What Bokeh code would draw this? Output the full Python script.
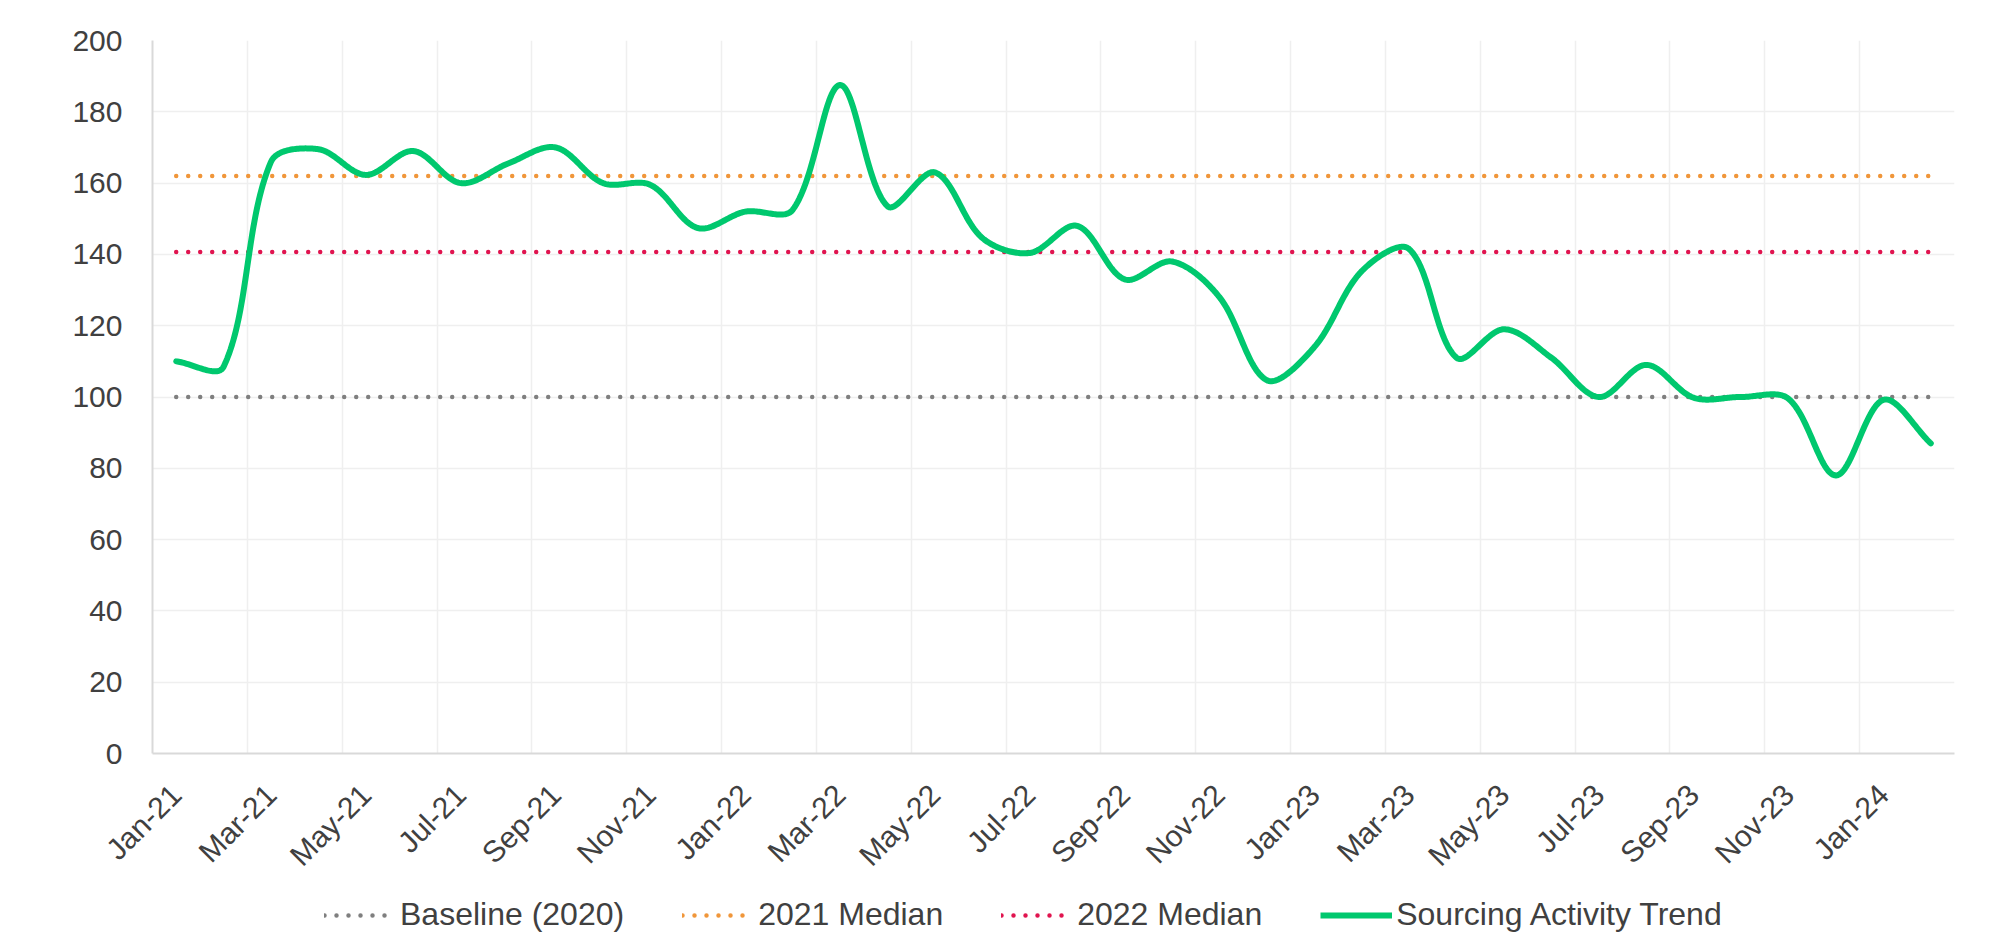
import numpy as np
from bokeh.plotting import figure
from bokeh.layouts import column
from bokeh.models import FixedTicker, Legend, LegendItem, Range1d
from bokeh.embed import file_html
from bokeh.resources import INLINE

months = ["Jan-21", "Feb-21", "Mar-21", "Apr-21", "May-21", "Jun-21", "Jul-21", "Aug-21",
          "Sep-21", "Oct-21", "Nov-21", "Dec-21", "Jan-22", "Feb-22", "Mar-22", "Apr-22",
          "May-22", "Jun-22", "Jul-22", "Aug-22", "Sep-22", "Oct-22", "Nov-22", "Dec-22",
          "Jan-23", "Feb-23", "Mar-23", "Apr-23", "May-23", "Jun-23", "Jul-23", "Aug-23",
          "Sep-23", "Oct-23", "Nov-23", "Dec-23", "Jan-24", "Feb-24"]

sourcing = [110, 108.5, 166, 169.5, 162.3, 169, 160, 165.5, 170, 160, 159.5, 147.4,
            152, 152.5, 187.5, 153.5, 163, 144.6, 140.4, 148, 133, 138, 128, 104.7,
            114, 135.3, 141.5, 111, 119, 111, 100, 109, 99.8, 100, 99.5, 78, 99.2, 87]

baseline_2020 = 100
median_2021 = 162
median_2022 = 140.7

y_ticks = list(range(0, 201, 20))

FONT = "Liberation Sans"
TEXT = "#404040"
C_BASE, C_M21, C_M22, C_SRC = "#7f7f7f", "#f0963a", "#e0144f", "#00c86e"

n = len(months)
x = np.arange(n, dtype=float)

# approximate on-screen size of one x unit and one y unit (px), used only for
# chord-length weighting of the smoothed curve (Excel-style smoothing)
XPX, YPX = 47.5, 3.566


def smooth(xs, ys, steps=40):
    P = np.column_stack([xs, ys]).astype(float)
    m = len(P)
    S = P * np.array([XPX, YPX])
    d = np.hypot(*(np.diff(S, axis=0).T))  # segment lengths in px
    parts = []
    for i in range(m - 1):
        p1, p2 = P[i], P[i + 1]
        p0 = P[i - 1] if i > 0 else P[i]
        p3 = P[i + 2] if i + 2 < m else P[i + 1]
        dprev = d[i - 1] if i > 0 else 0.0
        dnext = d[i + 1] if i + 2 < m else 0.0
        di = d[i]
        c1 = p1 + (p2 - p0) * di / (3.0 * (dprev + di))
        c2 = p2 - (p3 - p1) * di / (3.0 * (di + dnext))
        t = np.linspace(0, 1, steps, endpoint=(i == m - 2))[:, None]
        seg = (1 - t) ** 3 * p1 + 3 * (1 - t) ** 2 * t * c1 + 3 * (1 - t) * t ** 2 * c2 + t ** 3 * p2
        parts.append(seg)
    R = np.vstack(parts)
    return R[:, 0], R[:, 1]


p = figure(width=2000, height=892,
           x_range=Range1d(-0.5, n - 0.5), y_range=Range1d(0, 200),
           output_backend="svg", toolbar_location=None,
           min_border_left=152, min_border_right=46, min_border_top=40, min_border_bottom=139)
p.outline_line_color = None
p.background_fill_color = "white"
p.border_fill_color = "white"

dot = dict(line_width=4.5, line_dash="0 12", line_cap="round")
p.line(x, np.full(n, baseline_2020), line_color=C_BASE, **dot)
p.line(x, np.full(n, median_2021), line_color=C_M21, **dot)
p.line(x, np.full(n, median_2022), line_color=C_M22, **dot)
sx, sy = smooth(x, sourcing)
p.line(sx, sy, line_color=C_SRC, line_width=6, line_cap="round", line_join="round")

# axes: labels at category centres, grid lines at category boundaries
label_pos = list(range(0, n, 2))
p.xaxis.ticker = FixedTicker(ticks=label_pos)
p.xaxis.major_label_overrides = {k: months[k] for k in label_pos}
p.xaxis.major_label_orientation = np.pi / 4
p.xaxis.major_label_standoff = 36
p.yaxis.ticker = FixedTicker(ticks=y_ticks)
p.yaxis.major_label_standoff = 30

for ax in (p.xaxis, p.yaxis):
    ax.axis_line_color = "#d9d9d9"
    ax.axis_line_width = 2
    ax.major_tick_line_color = None
    ax.minor_tick_line_color = None
    ax.major_tick_out = 0
    ax.major_tick_in = 0
    ax.major_label_text_font = FONT
    ax.major_label_text_font_size = "30px"
    ax.major_label_text_color = TEXT

p.xgrid.ticker = FixedTicker(ticks=[-0.5 + 2 * k for k in range(n // 2 + 1)])
p.xgrid.grid_line_color = "#efefef"
p.xgrid.grid_line_width = 1.5
p.ygrid.grid_line_color = "#efefef"
p.ygrid.grid_line_width = 1.5

# legend strip below the chart (its series lie outside this strip's visible y range,
# so only the legend swatches show)
lf = figure(width=2000, height=41, x_range=Range1d(-0.5, n - 0.5), y_range=Range1d(-2, -1),
            output_backend="svg", toolbar_location=None, x_axis_type=None, y_axis_type=None,
            min_border=0)
lf.outline_line_color = None
lf.xgrid.visible = False
lf.ygrid.visible = False
l_base = lf.line(x, np.full(n, baseline_2020), line_color=C_BASE, **dot)
l_m21 = lf.line(x, np.full(n, median_2021), line_color=C_M21, **dot)
l_m22 = lf.line(x, np.full(n, median_2022), line_color=C_M22, **dot)
l_src = lf.line(x, sourcing, line_color=C_SRC, line_width=6)

legend = Legend(items=[
    LegendItem(label="Baseline (2020)", renderers=[l_base]),
    LegendItem(label="2021 Median", renderers=[l_m21]),
    LegendItem(label="2022 Median", renderers=[l_m22]),
    LegendItem(label="Sourcing Activity Trend", renderers=[l_src]),
], orientation="horizontal", location=(172, 0),
    glyph_width=72, glyph_height=20, label_standoff=4, spacing=58,
    padding=0, margin=0, border_line_color=None, background_fill_alpha=0,
    label_text_font=FONT, label_text_font_size="32px", label_text_color=TEXT)
lf.add_layout(legend)

open("out.html", "w").write(file_html(column(p, lf, spacing=0), INLINE))
